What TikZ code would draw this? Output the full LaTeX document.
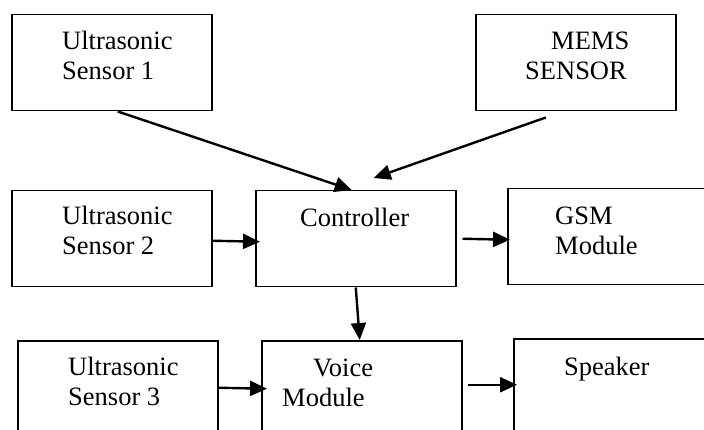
\documentclass[tikz,border=0pt]{standalone}
\usepackage{fontspec}
\setmainfont{Liberation Serif}
\usetikzlibrary{arrows.meta}
\tikzset{
  block/.style={draw,line width=1.5pt,minimum width=200pt,minimum height=96pt,inner sep=0pt,anchor=north west},
  label text/.style={align=left,anchor=base west,inner sep=0pt,font=\fontsize{26.5}{30}\selectfont},
  link/.style={->,line width=2.4pt},
}
\begin{document}
\begin{tikzpicture}[x=1pt,y=-1pt,>={Triangle[length=17pt,width=15pt]}]
    \useasboundingbox (0,0) rectangle (704,430);
    \clip (0,0) rectangle (704,430);
    % blocks
    \node[block] (US1) at (11,14) {};
    \node[block] (MEMS) at (475,14) {};
    \node[block] (US2) at (11,190) {};
    \node[block] (CTRL) at (255,190) {};
    \node[block] (GSM) at (507,188) {};
    \node[block] (US3) at (17,340) {};
    \node[block] (VOICE) at (261,340) {};
    \node[block] (SPK) at (513,338) {};
    % texts (base = last line)
    \node[label text] (US1 text) at (62,80) {Ultrasonic\\Sensor 1};
    \node[label text] (MEMS text) at (525,80) {\hspace*{26pt}MEMS\\SENSOR};
    \node[label text] (US2 text) at (62,255) {Ultrasonic\\Sensor 2};
    \node[label text] (CTRL text) at (300,227) {Controller};
    \node[label text] (GSM text) at (555,255) {GSM\\Module};
    \node[label text] (US3 text) at (68,405) {Ultrasonic\\Sensor 3};
    \node[label text] (VOICE text) at (282,406) {\hspace*{31pt}Voice\\Module};
    \node[label text] (SPK text) at (564,375) {Speaker};
    % connectors
    \draw[link] ([xshift=6pt]US1.south) -- ([xshift=-4pt]CTRL.north);
    \draw[link] ([xshift=-30pt,yshift=-6pt]MEMS.south) -- ([xshift=18pt,yshift=12pt]CTRL.north);
    \draw[link] ([yshift=-2pt]US2.east) -- ([xshift=5pt,yshift=-3pt]CTRL.west);
    \draw[link] ([xshift=6pt]CTRL.east) -- ([xshift=3pt,yshift=-3pt]GSM.west);
    \draw[link] (CTRL.south) -- ([xshift=-2pt]VOICE.north);
    \draw[link] ([yshift=1pt]US3.east) -- ([xshift=6pt]VOICE.west);
    \draw[link] ([xshift=5pt,yshift=4pt]VOICE.east) -- ([xshift=4pt,yshift=2pt]SPK.west);
\end{tikzpicture}
\end{document}
